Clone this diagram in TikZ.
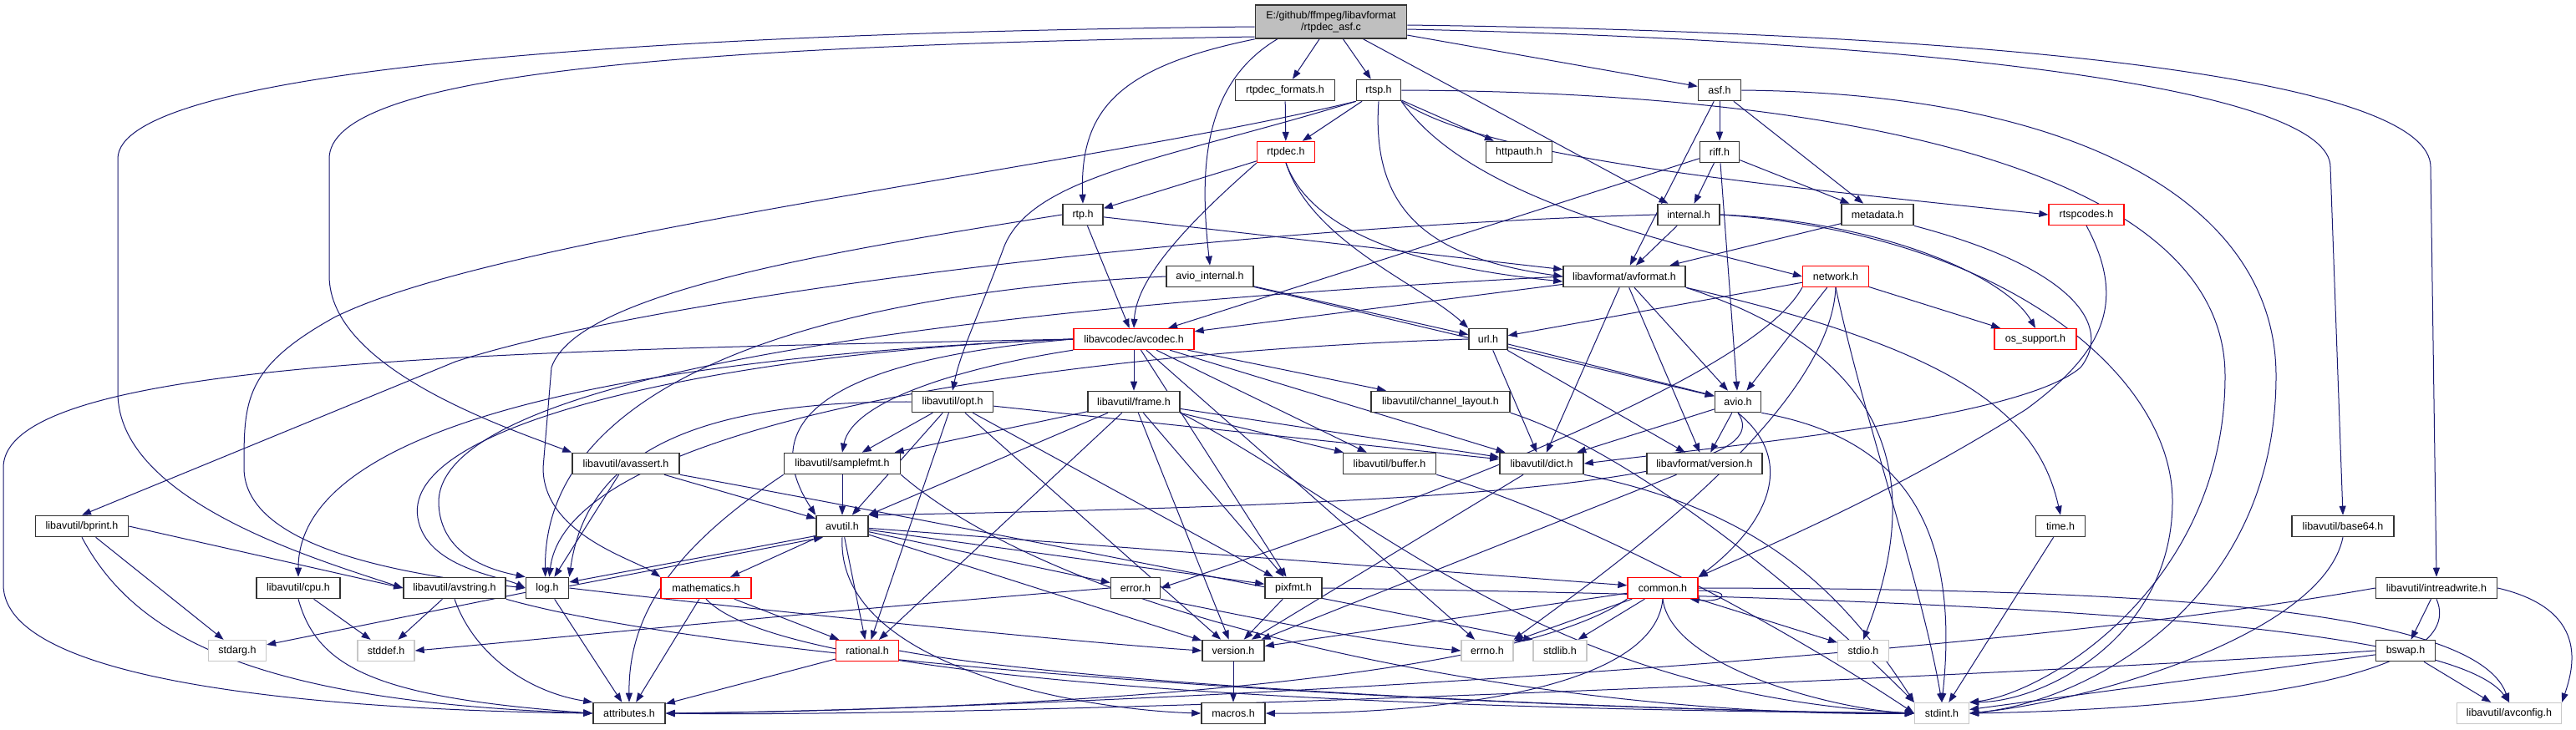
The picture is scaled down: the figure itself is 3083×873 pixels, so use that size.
\documentclass[tikz,border=0pt]{standalone}
\usepackage{fontspec}
\setmainfont{Liberation Sans}
\usetikzlibrary{arrows.meta}
\definecolor{edgeblue}{HTML}{191970}
\definecolor{hdrred}{HTML}{FF0000}
\pgfdeclarelayer{back}
\pgfsetlayers{back,main}

\begin{document}
\begin{tikzpicture}[x=1pt,y=-1pt,
  hdr/.style={draw=black!80, line width=1.6pt, fill=white, minimum height=25pt, inner sep=0pt, font=\fontsize{12.5}{14}\selectfont},
  hidden/.style={hdr, draw=hdrred, line width=1.3pt},
  sys/.style={hdr, draw=black!22, line width=1.3pt},
  top/.style={hdr, fill=black!25, align=center, minimum height=40pt},
  dep/.style={draw=edgeblue, line width=1pt, -{Triangle[length=11pt,width=8pt]}}]
  \path[use as bounding box] (0,0) rectangle (3083,873);

  % Source file
  \node[top, minimum width=181pt] (root) at (1593,26) {E:/github/ffmpeg/libavformat\\/rtpdec\_asf.c};

  % libavformat headers
  \node[hdr, minimum width=119pt] (rtpdecfmt) at (1538,108) {rtpdec\_formats.h};
  \node[hdr, minimum width=53pt] (rtsp) at (1650,108) {rtsp.h};
  \node[hdr, minimum width=51pt] (asf) at (2058,108) {asf.h};
  \node[hidden, minimum width=69pt] (rtpdec) at (1539,182) {rtpdec.h};
  \node[hdr, minimum width=79pt] (httpauth) at (1818,182) {httpauth.h};
  \node[hdr, minimum width=47pt] (riff) at (2058,182) {riff.h};
  \node[hdr, minimum width=48pt] (rtp) at (1296,257) {rtp.h};
  \node[hdr, minimum width=74pt] (internal) at (2021,257) {internal.h};
  \node[hdr, minimum width=86pt] (metadata) at (2247,257) {metadata.h};
  \node[hidden, minimum width=90pt] (rtspcodes) at (2497,257) {rtspcodes.h};
  \node[hdr, minimum width=104pt] (aviointernal) at (1448,331) {avio\_internal.h};
  \node[hdr, minimum width=146pt] (avformat) at (1944,331) {libavformat/avformat.h};
  \node[hidden, minimum width=79pt] (network) at (2197,331) {network.h};
  \node[hidden, minimum width=144pt] (avcodec) at (1357,406) {libavcodec/avcodec.h};
  \node[hdr, minimum width=46pt] (url) at (1781,406) {url.h};
  \node[hidden, minimum width=98pt] (ossupport) at (2436,406) {os\_support.h};
  \node[hdr, minimum width=55pt] (avio) at (2080,481) {avio.h};
  \node[hdr, minimum width=138pt] (lavfversion) at (2040,555) {libavformat/version.h};

  % libavutil headers
  \node[hdr, minimum width=97pt] (opt) at (1140,481) {libavutil/opt.h};
  \node[hdr, minimum width=110pt] (frame) at (1357,481) {libavutil/frame.h};
  \node[hdr, minimum width=166pt] (chlayout) at (1724,481) {libavutil/channel\_layout.h};
  \node[hdr, minimum width=128pt] (avassert) at (749,555) {libavutil/avassert.h};
  \node[hdr, minimum width=139pt] (samplefmt) at (1008,555) {libavutil/samplefmt.h};
  \node[hdr, minimum width=111pt] (buffer) at (1663,555) {libavutil/buffer.h};
  \node[hdr, minimum width=100pt] (dict) at (1845,555) {libavutil/dict.h};
  \node[hdr, minimum width=111pt] (bprint) at (98,630) {libavutil/bprint.h};
  \node[hdr, minimum width=62pt] (avutil) at (1008,630) {avutil.h};
  \node[hdr, minimum width=59pt] (time) at (2466,630) {time.h};
  \node[hdr, minimum width=122pt] (base64) at (2804,630) {libavutil/base64.h};
  \node[hdr, minimum width=100pt] (cpu) at (357,704) {libavutil/cpu.h};
  \node[hdr, minimum width=122pt] (avstring) at (544,704) {libavutil/avstring.h};
  \node[hdr, minimum width=51pt] (log) at (655,704) {log.h};
  \node[hidden, minimum width=108pt] (mathematics) at (845,704) {mathematics.h};
  \node[hdr, minimum width=59pt] (error) at (1359,704) {error.h};
  \node[hdr, minimum width=68pt] (pixfmt) at (1548,704) {pixfmt.h};
  \node[hidden, minimum width=84pt] (common) at (1990,704) {common.h};
  \node[hdr, minimum width=145pt] (intreadwrite) at (2916,704) {libavutil/intreadwrite.h};
  \node[hidden, minimum width=75pt] (rational) at (1038,779) {rational.h};
  \node[hdr, minimum width=74pt] (version) at (1476,779) {version.h};
  \node[hdr, minimum width=71pt] (bswap) at (2879,779) {bswap.h};
  \node[hdr, minimum width=86pt] (attributes) at (753,854) {attributes.h};
  \node[hdr, minimum width=76pt] (macros) at (1476,854) {macros.h};
  \node[sys, minimum width=125pt] (avconfig) at (3003,854) {libavutil/avconfig.h};

  % system headers
  \node[sys, minimum width=69pt] (stdarg) at (284,779) {stdarg.h};
  \node[sys, minimum width=68pt] (stddef) at (462,779) {stddef.h};
  \node[sys, minimum width=62pt] (errno) at (1780,779) {errno.h};
  \node[sys, minimum width=64pt] (stdlib) at (1867,779) {stdlib.h};
  \node[sys, minimum width=61pt] (stdio) at (2230,779) {stdio.h};
  \node[sys, minimum width=65pt] (stdint) at (2324,854) {stdint.h};

  \begin{pgfonlayer}{back}
  \fill[white] (0,0) rectangle (3083,873);

  % Includes of the source file
  \draw[dep] (root) -- (rtpdecfmt);
  \draw[dep] (root) -- (rtsp);
  \draw[dep] (root) -- (asf);
  \draw[dep] (root) -- (internal);
  \draw[dep] (root.south west) .. controls (1340,80) and (1292,130) .. (rtp.north);
  \draw[dep] ([xshift=27pt]root.south west) .. controls (1440,100) and (1435,200) .. (aviointernal.north);
  \draw[dep] ([yshift=-4pt]root.east) .. controls (2450,40) and (2909,100) .. (2909,200) -- (intreadwrite.north);
  \draw[dep] ([yshift=-9pt]root.east) .. controls (2350,50) and (2789,110) .. (2789,200) -- (base64.north);
  \draw[dep] ([yshift=-6pt]root.west) .. controls (700,40) and (141,90) .. (141,190) -- (141,470) .. controls (141,600) and (380,670) .. (avstring.west);
  \draw[dep] ([yshift=-18pt]root.west) .. controls (800,55) and (394,90) .. (394,190) -- (394,330) .. controls (394,440) and (600,510) .. (avassert.north west);

  % rtpdec_formats.h, rtsp.h, asf.h
  \draw[dep] (rtpdecfmt) -- (rtpdec);
  \draw[dep] (rtsp) -- (rtpdec);
  \draw[dep] (rtsp) -- (httpauth);
  \draw[dep] (rtsp.south) .. controls (1640,260) and (1720,310) .. (avformat.west);
  \draw[dep] (rtsp.south east) .. controls (1760,240) and (2000,290) .. (network.west);
  \draw[dep] (rtsp.south east) .. controls (1780,190) and (2100,220) .. (rtspcodes.west);
  \draw[dep] (rtsp.east) .. controls (2200,110) and (2663,200) .. (2663,450) .. controls (2663,700) and (2450,830) .. (stdint.north east);
  \draw[dep] (rtsp.south west) .. controls (1300,200) and (600,280) .. (400,380) .. controls (292,440) and (292,480) .. (292,560) .. controls (292,660) and (500,690) .. (log.west);
  \draw[dep] (rtsp.south west) .. controls (1400,190) and (1230,210) .. (1200,300) .. controls (1170,380) and (1150,420) .. (opt.north);
  \draw[dep] (asf) -- (riff);
  \draw[dep] (asf) -- (metadata);
  \draw[dep] (asf) -- (avformat);
  \draw[dep] (asf.east) .. controls (2500,112) and (2724,250) .. (2724,450) .. controls (2724,720) and (2500,840) .. (stdint.east);

  % rtpdec.h, riff.h, rtp.h
  \draw[dep] (rtpdec) -- (rtp);
  \draw[dep] (rtpdec.south west) .. controls (1430,260) and (1360,330) .. (avcodec.north);
  \draw[dep] (rtpdec.south) .. controls (1570,280) and (1700,320) .. ([yshift=-6pt]avformat.west);
  \draw[dep] (rtpdec.south) .. controls (1570,290) and (1700,340) .. (url.north west);
  \draw[dep] (riff) -- (internal);
  \draw[dep] (riff) -- (metadata);
  \draw[dep] (riff) -- (avio);
  \draw[dep] (riff) -- (avcodec);
  \draw[dep] (rtp) -- (avcodec);
  \draw[dep] (rtp) -- (avformat);
  \draw[dep] (rtp.west) .. controls (1000,300) and (690,350) .. (660,440) -- (650,560) .. controls (650,640) and (760,670) .. (mathematics.north west);

  % internal.h, metadata.h, avio_internal.h
  \draw[dep] (internal) -- (avformat);
  \draw[dep] (internal.east) .. controls (2250,265) and (2400,330) .. (ossupport.north);
  \draw[dep] (internal.east) .. controls (2400,280) and (2600,450) .. (2600,600) .. controls (2600,760) and (2450,840) .. (stdint.north east);
  \draw[dep] (internal.west) .. controls (1500,270) and (800,350) .. (545,433) -- (bprint.north);
  \draw[dep] (metadata) -- (avformat);
  \draw[dep] (metadata.south east) .. controls (2480,320) and (2530,390) .. (2490,440) .. controls (2420,500) and (2100,530) .. (dict.east);
  \draw[dep] (aviointernal) -- (url);
  \draw[dep] (aviointernal) -- (avio);
  \draw[dep] (aviointernal.west) .. controls (1000,350) and (650,450) .. (log.100);

  % avformat.h, network.h, url.h
  \draw[dep] (avformat) -- (avcodec);
  \draw[dep] (avformat) -- (avio);
  \draw[dep] (avformat) -- (dict);
  \draw[dep] (avformat) -- (lavfversion);
  \draw[dep] (avformat.south east) .. controls (2350,420) and (2440,500) .. (time.north);
  \draw[dep] (avformat.south east) .. controls (2250,420) and (2310,560) .. (stdio.north);
  \draw[dep] (avformat.west) .. controls (1300,360) and (530,430) .. (525,600) .. controls (525,670) and (600,685) .. (log.north west);
  \draw[dep] (network) -- (url);
  \draw[dep] (network) -- (avio);
  \draw[dep] (network) -- (ossupport);
  \draw[dep] (network.south) .. controls (2190,500) and (1900,700) .. (errno.north east);
  \draw[dep] (network.south) .. controls (2230,500) and (2300,700) .. (stdint.north);
  \draw[dep] (network.south west) .. controls (2100,450) and (1700,600) .. (error.east);
  \draw[dep] (url) -- (avio);
  \draw[dep] (url) -- (dict);
  \draw[dep] (url) -- (lavfversion);
  \draw[dep] (url.west) .. controls (1300,420) and (680,500) .. (log.80);
  \draw[dep] (rtspcodes.south) .. controls (2545,360) and (2520,420) .. (2425,490) .. controls (2250,600) and (2100,660) .. (common.north east);

  % libavcodec/avcodec.h
  \draw[dep] (avcodec) -- (frame);
  \draw[dep] (avcodec) -- (chlayout);
  \draw[dep] (avcodec) -- (buffer);
  \draw[dep] (avcodec) -- (dict);
  \draw[dep] (avcodec) -- (pixfmt);
  \draw[dep] (avcodec) -- (errno);
  \draw[dep] (avcodec.south west) .. controls (1150,440) and (1020,480) .. (samplefmt.north);
  \draw[dep] (avcodec.west) .. controls (1000,430) and (900,500) .. (avutil.north west);
  \draw[dep] (avcodec.west) .. controls (700,430) and (357,520) .. (cpu.north);
  \draw[dep] (avcodec.west) .. controls (900,420) and (480,500) .. (500,620) .. controls (510,680) and (600,690) .. (log.west);
  \draw[dep] (avcodec.west) .. controls (600,420) and (4,430) .. (4,560) -- (4,700) .. controls (4,820) and (400,850) .. (attributes.west);

  % avio.h, dict.h and friends
  \draw[dep] (avio) -- (lavfversion);
  \draw[dep] (avio) -- (dict);
  \draw[dep] (avio.south) .. controls (2160,560) and (2100,640) .. (common.north east);
  \draw[dep] (avio.south) .. controls (2140,580) and (1700,605) .. (avutil.north east);
  \draw[dep] (avio.south east) .. controls (2250,520) and (2350,600) .. (stdint.north);
  \draw[dep] (dict) -- (version);
  \draw[dep] (dict.south east) .. controls (2100,610) and (2200,700) .. (stdint.north west);
  \draw[dep] (lavfversion) -- (version);
  \draw[dep] (chlayout.south east) .. controls (1950,540) and (2150,700) .. (stdint.north west);
  \draw[dep] (buffer.south east) .. controls (1900,620) and (2150,760) .. (stdint.west);

  % libavutil/frame.h, opt.h, samplefmt.h, avassert.h
  \draw[dep] (frame) -- (avutil);
  \draw[dep] (frame) -- (buffer);
  \draw[dep] (frame) -- (dict);
  \draw[dep] (frame) -- (rational);
  \draw[dep] (frame) -- (samplefmt);
  \draw[dep] (frame) -- (pixfmt);
  \draw[dep] (frame) -- (version);
  \draw[dep] (frame.south east) .. controls (1650,620) and (1850,830) .. (stdint.west);
  \draw[dep] (opt) -- (avutil);
  \draw[dep] (opt) -- (dict);
  \draw[dep] (opt) -- (pixfmt);
  \draw[dep] (opt) -- (rational);
  \draw[dep] (opt) -- (samplefmt);
  \draw[dep] (opt) -- (version);
  \draw[dep] (opt.west) .. controls (800,480) and (700,560) .. (log.north east);
  \draw[dep] (samplefmt) -- (avutil);
  \draw[dep] (samplefmt.south west) .. controls (800,660) and (752,740) .. (attributes.north);
  \draw[dep] (samplefmt.south east) .. controls (1300,760) and (1900,860) .. (stdint.west);
  \draw[dep] (avassert) -- (avutil);
  \draw[dep] (avassert) -- (log);
  \draw[dep] (avassert.south east) .. controls (1100,620) and (1700,740) .. (stdlib.north west);

  % avutil.h and log.h
  \draw[dep] (avutil) -- (common);
  \draw[dep] (avutil) -- (error);
  \draw[dep] (avutil) -- (version);
  \draw[dep] (avutil) -- (mathematics);
  \draw[dep] (avutil) -- (rational);
  \draw[dep] (avutil) -- (pixfmt);
  \draw[dep] (avutil.200) -- (log.15);
  \draw[dep] (log.5) -- (avutil.210);
  \draw[dep] (avutil.south) .. controls (1000,800) and (1300,850) .. (macros.west);
  \draw[dep] (log) -- (attributes);
  \draw[dep] (log) -- (stdarg);
  \draw[dep] (log.east) .. controls (900,730) and (1300,770) .. (version.west);

  % bprint.h, cpu.h, avstring.h, mathematics.h
  \draw[dep] (bprint) -- (stdarg);
  \draw[dep] (bprint.east) -- (avstring.west);
  \draw[dep] (bprint.south) .. controls (160,760) and (300,840) .. (attributes.west);
  \draw[dep] (cpu) -- (stddef);
  \draw[dep] (cpu.south) .. controls (380,800) and (450,835) .. (attributes.west);
  \draw[dep] (avstring) -- (stddef);
  \draw[dep] (avstring.south) .. controls (570,790) and (640,830) .. (attributes.north west);
  \draw[dep] (avstring.south east) .. controls (900,800) and (1800,850) .. (stdint.west);
  \draw[dep] (mathematics) -- (attributes);
  \draw[dep] (mathematics) -- (rational);
  \draw[dep] (mathematics.south) .. controls (950,830) and (1800,850) .. (stdint.west);

  % error.h, pixfmt.h, rational.h, version.h
  \draw[dep] (error.west) .. controls (1000,730) and (600,770) .. (stddef.east);
  \draw[dep] (error.south east) .. controls (1500,740) and (1650,770) .. (errno.west);
  \draw[dep] (pixfmt) -- (version);
  \draw[dep] (pixfmt.east) .. controls (2300,715) and (2930,740) .. (avconfig.north);
  \draw[dep] (rational) -- (attributes);
  \draw[dep] (rational.east) .. controls (1300,820) and (1900,850) .. (stdint.west);
  \draw[dep] (version) -- (macros);

  % common.h
  \draw[dep] (common) -- (errno);
  \draw[dep] (common) -- (stdlib);
  \draw[dep] (common) -- (stdio);
  \draw[dep] (common) -- (version);
  \draw[dep] (common.south) .. controls (2000,800) and (2200,850) .. (stdint.west);
  \draw[dep] (common.south) .. controls (1980,830) and (1700,855) .. (macros.east);
  \draw[dep] (common.south west) .. controls (1800,820) and (1200,850) .. (attributes.east);
  \draw[dep] (common.east) .. controls (2500,705) and (2960,720) .. (avconfig.north);
  \draw[dep] ([yshift=-3pt]common.east) .. controls +(45,0) and +(40,5) .. ([xshift=-10pt]common.south east);

  % time.h, base64.h, intreadwrite.h, bswap.h
  \draw[dep] (time) -- (stdint);
  \draw[dep] (base64.south) .. controls (2780,760) and (2500,840) .. (stdint.east);
  \draw[dep] (intreadwrite) -- (bswap);
  \draw[dep] (intreadwrite.south) .. controls (2960,820) and (2600,850) .. (stdint.east);
  \draw[dep] (intreadwrite.east) .. controls (3100,730) and (3080,800) .. (avconfig.north east);
  \draw[dep] (intreadwrite.west) .. controls (2300,800) and (1200,850) .. (attributes.east);
  \draw[dep] (bswap) -- (stdint);
  \draw[dep] (bswap) -- (avconfig);
  \draw[dep] (bswap.west) .. controls (2400,810) and (1200,860) .. (attributes.east);
  \end{pgfonlayer}
\end{tikzpicture}
\end{document}
